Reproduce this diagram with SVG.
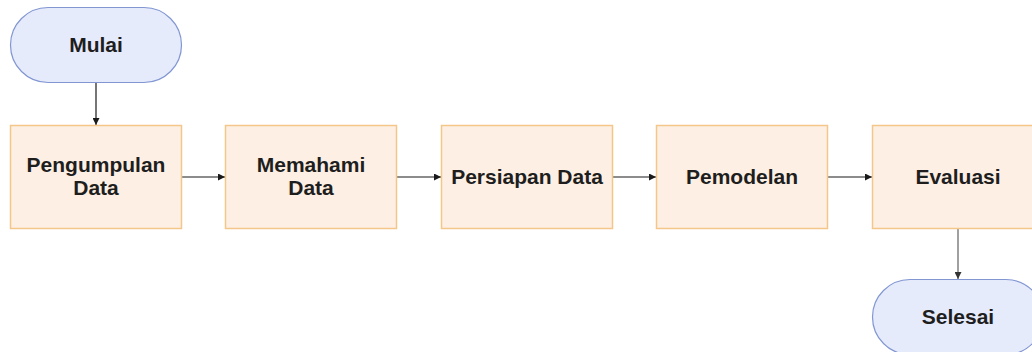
<svg xmlns="http://www.w3.org/2000/svg" width="1032" height="352" viewBox="0 0 1032 352">
  <defs>
    <marker id="arrow" viewBox="0 0 10 10" refX="10" refY="5" markerWidth="7" markerHeight="7" orient="auto" markerUnits="userSpaceOnUse">
      <path d="M0,0 L10,5 L0,10 Z" fill="#1a1a1a"/>
    </marker>
    <marker id="arrow-grey" viewBox="0 0 10 10" refX="10" refY="5" markerWidth="7" markerHeight="7" orient="auto" markerUnits="userSpaceOnUse">
      <path d="M0,0 L10,5 L0,10 Z" fill="#333"/>
    </marker>
  </defs>
  <style>
    .terminal { fill: #e6ebfb; stroke: #8196d2; stroke-width: 1.2; }
    .process { fill: #fdefe3; stroke: #f4c68a; stroke-width: 1.5; }
    .label { font-family: "Liberation Sans", Arial, sans-serif; font-weight: bold; font-size: 21px; fill: #1e1e1e; text-anchor: middle; }
    .flow { stroke: #1a1a1a; stroke-width: 1.2; fill: none; }
    .flow-grey { stroke: #808080; stroke-width: 1.5; fill: none; }
  </style>
  <rect width="1032" height="352" fill="#ffffff"/>

  <g id="connectors">
    <line class="flow" x1="96" y1="83" x2="96" y2="125" marker-end="url(#arrow)"/>
    <line class="flow" x1="182" y1="177" x2="225" y2="177" marker-end="url(#arrow)"/>
    <line class="flow" x1="397" y1="177" x2="441" y2="177" marker-end="url(#arrow)"/>
    <line class="flow" x1="612" y1="177" x2="656" y2="177" marker-end="url(#arrow)"/>
    <line class="flow" x1="828" y1="177" x2="872" y2="177" marker-end="url(#arrow)"/>
    <line class="flow-grey" x1="958" y1="229" x2="958" y2="279" marker-end="url(#arrow-grey)"/>
  </g>

  <g id="mulai">
    <rect class="terminal" x="10.5" y="7.5" width="171" height="75" rx="37.5" ry="37.5"/>
    <text class="label" x="96" y="52">Mulai</text>
  </g>

  <g id="pengumpulan-data">
    <rect class="process" x="10.5" y="125.5" width="171" height="103"/>
    <text class="label" x="96" y="172">Pengumpulan</text>
    <text class="label" x="96" y="195">Data</text>
  </g>

  <g id="memahami-data">
    <rect class="process" x="225.5" y="125.5" width="171" height="103"/>
    <text class="label" x="311" y="172">Memahami</text>
    <text class="label" x="311" y="195">Data</text>
  </g>

  <g id="persiapan-data">
    <rect class="process" x="441.5" y="125.5" width="171" height="103"/>
    <text class="label" x="527" y="184">Persiapan Data</text>
  </g>

  <g id="pemodelan">
    <rect class="process" x="656.5" y="125.5" width="171" height="103"/>
    <text class="label" x="742" y="184">Pemodelan</text>
  </g>

  <g id="evaluasi">
    <rect class="process" x="872.5" y="125.5" width="171" height="103"/>
    <text class="label" x="958" y="184">Evaluasi</text>
  </g>

  <g id="selesai">
    <rect class="terminal" x="872.5" y="279.5" width="171" height="75" rx="37.5" ry="37.5"/>
    <text class="label" x="958" y="324">Selesai</text>
  </g>
</svg>
